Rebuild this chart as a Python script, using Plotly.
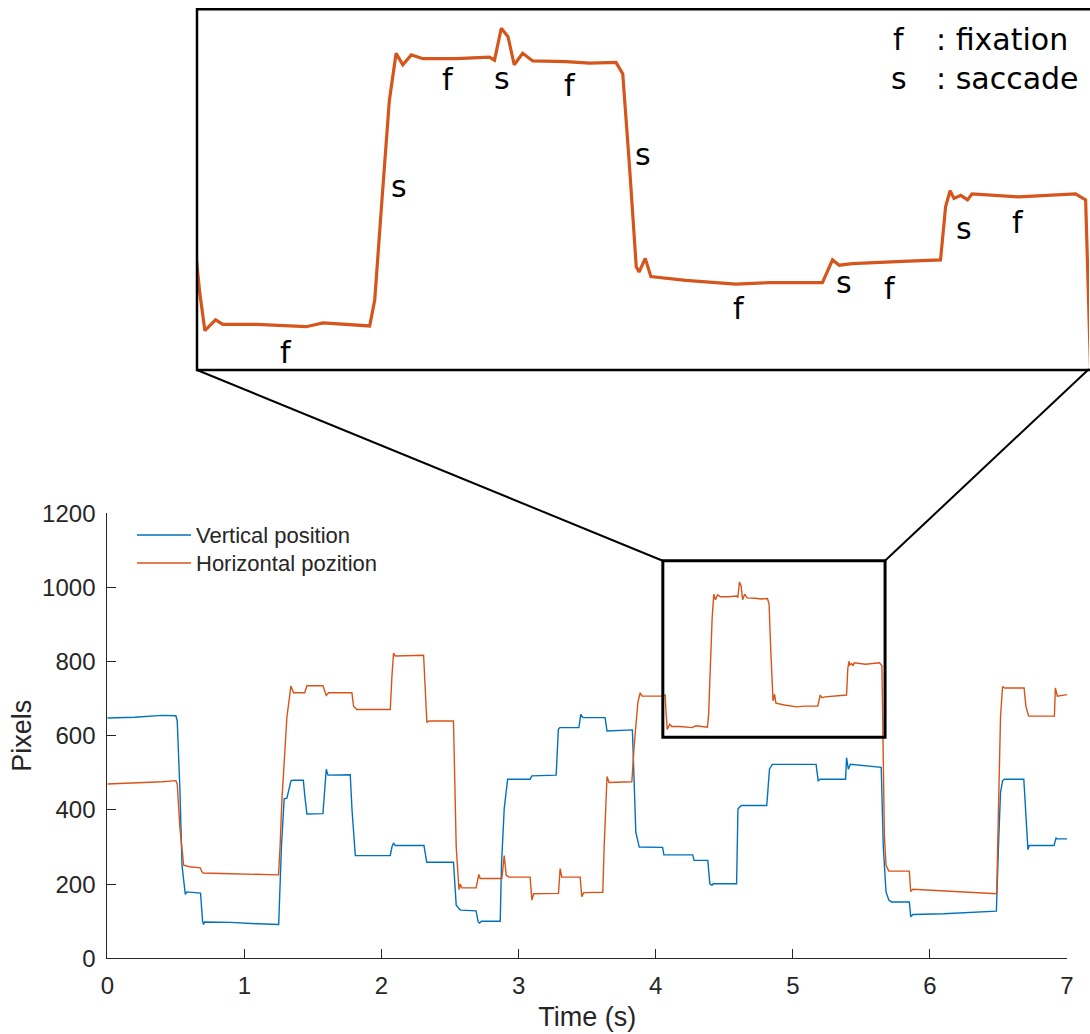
import plotly.graph_objects as go

# ---------------- data ----------------
vert_t = [0.00, 0.20, 0.40, 0.50, 0.51, 0.53, 0.545, 0.569, 0.58, 0.67, 0.68, 0.695, 0.702, 0.71, 0.90, 1.10,
          1.24, 1.25, 1.27, 1.29, 1.31, 1.34, 1.36, 1.43, 1.44, 1.456, 1.573, 1.585, 1.597, 1.61, 1.772, 1.785,
          1.809, 2.064, 2.076, 2.088, 2.10, 2.31, 2.33, 2.525, 2.545, 2.57, 2.58, 2.69, 2.705, 2.715, 2.73,
          2.866, 2.875, 2.895, 2.92, 3.084, 3.097, 3.274, 3.29, 3.30, 3.44, 3.453, 3.47, 3.631, 3.645, 3.83,
          3.845, 3.855, 3.88, 4.05, 4.06, 4.27, 4.28, 4.38, 4.395, 4.41, 4.42, 4.59, 4.60, 4.615, 4.625, 4.81,
          4.83, 4.85, 5.17, 5.185, 5.20, 5.385, 5.392, 5.405, 5.42, 5.645, 5.66, 5.68, 5.70, 5.72, 5.85, 5.86,
          5.875, 6.10, 6.30, 6.485, 6.50, 6.515, 6.53, 6.545, 6.685, 6.70, 6.715, 6.725, 6.905, 6.92, 6.93, 7.00]
vert_v = [648, 650, 655, 654, 640, 450, 250, 172, 179, 178, 176, 100, 91, 98, 97, 93,
          90, 91, 300, 430, 432, 479, 480, 480, 440, 389, 390, 460, 510, 494, 495, 400,
          277, 277, 300, 311, 304, 304, 259, 259, 143, 132, 130, 128, 98, 95, 100,
          100, 250, 403, 483, 483, 492, 494, 617, 622, 622, 658, 649, 649, 613, 616,
          450, 340, 300, 299, 279, 279, 264, 264, 201, 197, 201, 201, 403, 407, 412, 412,
          510, 523, 523, 479, 483, 483, 541, 510, 523, 515, 300, 179, 157, 152, 152, 112,
          118, 120, 123, 127, 300, 447, 479, 483, 483, 400, 293, 304, 304, 324, 322, 322]

horiz_t = [0.00, 0.20, 0.40, 0.50, 0.51, 0.53, 0.557, 0.60, 0.678, 0.69, 0.70, 0.90, 1.10, 1.249, 1.26, 1.274,
           1.31, 1.339, 1.359, 1.44, 1.456, 1.573, 1.597, 1.614, 1.784, 1.796, 1.821, 2.064, 2.076, 2.088, 2.10,
           2.307, 2.331, 2.345, 2.525, 2.545, 2.565, 2.574, 2.585, 2.69, 2.71, 2.72, 2.878, 2.895, 2.91, 2.93,
           3.084, 3.097, 3.11, 3.291, 3.303, 3.315, 3.449, 3.461, 3.475, 3.614, 3.624, 3.645, 3.66, 3.826,
           3.843, 3.87, 3.887, 3.90, 4.05, 4.069, 4.075, 4.084, 4.093, 4.103, 4.116, 4.176, 4.264, 4.294,
           4.377, 4.386, 4.398, 4.412, 4.424, 4.436, 4.451, 4.472, 4.531, 4.590, 4.599, 4.611, 4.623, 4.634,
           4.649, 4.667, 4.726, 4.768, 4.815, 4.827, 4.839, 4.851, 4.856, 4.867, 4.877, 4.939, 5.028, 5.087,
           5.182, 5.200, 5.212, 5.235, 5.324, 5.392, 5.401, 5.409, 5.416, 5.428, 5.440, 5.448, 5.531, 5.632,
           5.650, 5.656, 5.668, 5.68, 5.69, 5.70, 5.85, 5.86, 5.875, 6.10, 6.30, 6.487, 6.50, 6.515, 6.53,
           6.545, 6.687, 6.70, 6.72, 6.908, 6.915, 6.93, 7.00]
horiz_v = [470, 472, 476, 479, 470, 350, 251, 247, 244, 233, 230, 228, 226, 225, 300, 430,
           650, 734, 716, 716, 735, 735, 709, 716, 716, 680, 671, 671, 760, 823, 815,
           817, 636, 640, 640, 300, 185, 200, 190, 190, 226, 215, 215, 277, 224, 219,
           219, 157, 174, 175, 242, 219, 219, 166, 177, 178, 300, 490, 474, 476,
           573, 690, 716, 707, 707, 710, 666, 617, 624, 631, 625, 625, 622, 627,
           623, 657, 780, 920, 982, 967, 980, 975, 975, 977, 973, 1015, 1004, 967,
           982, 972, 971, 969, 970, 955, 833, 701, 694, 712, 688, 683, 678, 680,
           680, 710, 703, 705, 708, 710, 780, 801, 791, 795, 789, 797, 793, 797,
           789, 600, 330, 251, 242, 235, 235, 180, 186, 182, 178, 174, 400, 650, 733,
           729, 729, 680, 653, 653, 729, 707, 711]

series_names = ["Vertical position", "Horizontal pozition"]
x_ticks = [0, 1, 2, 3, 4, 5, 6, 7]
y_ticks = [0, 200, 400, 600, 800, 1000, 1200]
zoom_window_t = [4.052, 5.673]
zoom_window_v = [596, 1072]
inset_range_t = [4.07, 5.656]
inset_range_v = [565, 1040]

# inset labels: (text, x px, y px)
inset_labels = [("f", 286, 352), ("s", 399, 187), ("f", 448, 80), ("s", 502, 78), ("f", 570, 85),
                ("s", 643, 155), ("f", 739, 308), ("s", 844, 282), ("f", 890, 288), ("s", 964, 228),
                ("f", 1018, 223)]
key_letters = ["f", "s"]
key_words = [": fixation", ": saccade"]

# ---------------- figure ----------------
W, H = 1090, 1034
BLUE = "#0072BD"
ORANGE = "#D95319"
AX = "#262626"


def px(x):
    return x / W


def py(y):
    return 1 - y / H


fig = go.Figure()
fig.add_trace(go.Scatter(x=vert_t, y=vert_v, mode="lines", name=series_names[0],
                         line=dict(color=BLUE, width=1.4), showlegend=False, xaxis="x", yaxis="y"))
fig.add_trace(go.Scatter(x=horiz_t, y=horiz_v, mode="lines", name=series_names[1],
                         line=dict(color=ORANGE, width=1.4), showlegend=False, xaxis="x", yaxis="y"))
# zoomed copy of the horizontal position
fig.add_trace(go.Scatter(x=horiz_t, y=horiz_v, mode="lines", name=series_names[1] + " (zoom)",
                         line=dict(color="#D5561C", width=3.2), showlegend=False,
                         xaxis="x2", yaxis="y2"))

FAM = "Liberation Sans, Arial, sans-serif"
tick_font = dict(family=FAM, size=24, color=AX)
legend_font = dict(family=FAM, size=22, color=AX)
title_font = dict(family=FAM, size=27, color=AX)
fig.update_layout(
    template="none",
    width=W, height=H,
    margin=dict(l=0, r=0, t=0, b=0, autoexpand=False),
    paper_bgcolor="white", plot_bgcolor="white",
    showlegend=False,
    xaxis=dict(domain=[px(107.3), px(1067)], range=[0, 7], tickvals=x_ticks,
               ticks="inside", ticklen=9, tickwidth=1, tickcolor=AX, automargin=False,
               showline=True, linecolor=AX, linewidth=1, showgrid=False, zeroline=False,
               tickfont=tick_font, ticklabelstandoff=6,
               title=dict(text="Time (s)", font=title_font, standoff=9),
               anchor="y"),
    yaxis=dict(domain=[py(958.3), py(513.3)], range=[0, 1200], tickvals=y_ticks,
               ticks="inside", ticklen=9, tickwidth=1, tickcolor=AX, automargin=False,
               showline=True, linecolor=AX, linewidth=1, showgrid=False, zeroline=False,
               tickfont=tick_font, ticklabelstandoff=6,
               title=dict(text="Pixels", font=title_font, standoff=2),
               anchor="x"),
    xaxis2=dict(domain=[px(197), px(1089)], range=inset_range_t, visible=False, anchor="y2"),
    yaxis2=dict(domain=[py(370), py(9.3)], range=inset_range_v, visible=False, anchor="x2"),
)

shapes = []
# zoom window on the main axes
shapes.append(dict(type="rect", xref="x", yref="y", x0=zoom_window_t[0], x1=zoom_window_t[1],
                   y0=zoom_window_v[0], y1=zoom_window_v[1], line=dict(color="black", width=3),
                   layer="above"))
# inset frame
shapes.append(dict(type="rect", xref="paper", yref="paper", x0=px(197), x1=px(1096),
                   y0=py(370), y1=py(9.3), line=dict(color="black", width=2.5), layer="above"))
# connector lines
shapes.append(dict(type="line", xref="paper", yref="paper", x0=px(197), y0=py(370),
                   x1=px(662.7), y1=py(560.7), line=dict(color="black", width=2)))
shapes.append(dict(type="line", xref="paper", yref="paper", x0=px(1089), y0=py(369),
                   x1=px(885), y1=py(560.7), line=dict(color="black", width=2)))
# legend samples
shapes.append(dict(type="line", xref="paper", yref="paper", x0=px(137), x1=px(191),
                   y0=py(535), y1=py(535), line=dict(color=BLUE, width=1.4)))
shapes.append(dict(type="line", xref="paper", yref="paper", x0=px(137), x1=px(191),
                   y0=py(563), y1=py(563), line=dict(color=ORANGE, width=1.4)))
fig.update_layout(shapes=shapes)

annotations = []
for name, yy in zip(series_names, [535, 563]):
    annotations.append(dict(text=name, xref="paper", yref="paper", x=px(194), y=py(yy),
                            xanchor="left", yanchor="middle", showarrow=False,
                            font=legend_font))
inset_font = dict(family="DejaVu Sans, Verdana, sans-serif", size=30, color="black")
for txt, xx, yy in inset_labels:
    annotations.append(dict(text=txt, xref="paper", yref="paper", x=px(xx), y=py(yy),
                            xanchor="center", yanchor="middle", showarrow=False, font=inset_font))
for letter, word, yy in zip(key_letters, key_words, [40, 78]):
    annotations.append(dict(text=letter, xref="paper", yref="paper", x=px(899), y=py(yy),
                            xanchor="center", yanchor="middle", showarrow=False, font=inset_font))
    annotations.append(dict(text=word, xref="paper", yref="paper", x=px(934), y=py(yy),
                            xanchor="left", yanchor="middle", showarrow=False, font=inset_font))
fig.update_layout(annotations=annotations)

fig.write_html("out.html")
